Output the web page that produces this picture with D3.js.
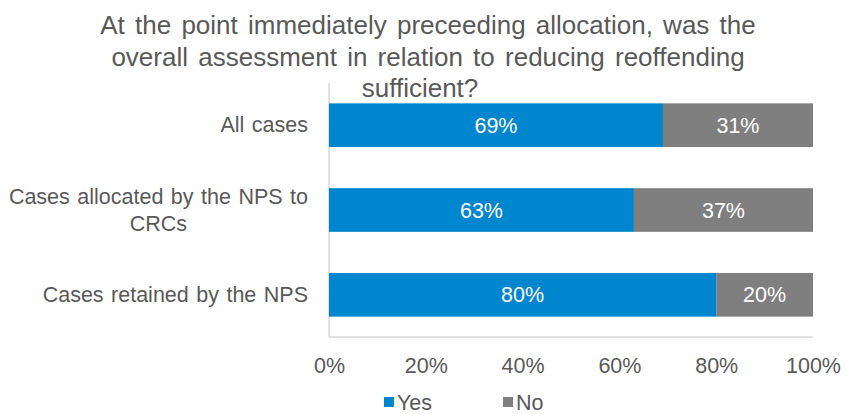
<!DOCTYPE html>
<html>
<head>
<meta charset="utf-8">
<script src="https://cdn.jsdelivr.net/npm/d3@7"></script>
<style>
  body { margin: 0; background: #fff; }
  svg text { font-family: "Liberation Sans", Arial, sans-serif; }
</style>
</head>
<body>
<div class="container"></div>
<script>
// data
const categories = ["All cases", "Cases allocated by the NPS to CRCs", "Cases retained by the NPS"];
const yesValues = [69, 63, 80];
const noValues = [31, 37, 20];
const tickValues = [0, 20, 40, 60, 80, 100];
const seriesNames = ["Yes", "No"];
const titleLines = [
  "At the point immediately preceeding allocation, was the",
  "overall assessment in relation to reducing reoffending",
  "sufficient?"
];

const width = 855, height = 414;
const textColor = "#595959";
const colors = { Yes: "#0086CE", No: "#7F7F7F" };

let svg = d3.select(".container").append("svg")
  .attr("width", width)
  .attr("height", height);

// scales
let x = d3.scaleLinear().domain([0, 100]).range([329, 813]);
let y = d3.scaleBand().domain(categories).range([83, 337])
  .paddingInner(0.485).paddingOuter(0.24);

// title
svg.append("g").selectAll("text")
  .data(titleLines)
  .join("text")
    .attr("x", (d, i) => i == 2 ? 420 : 428)
    .attr("y", (d, i) => 34 + i * 31.5)
    .attr("text-anchor", "middle")
    .attr("font-size", 26)
    .attr("word-spacing", 3)
    .attr("fill", textColor)
    .text(d => d);

// axis lines
svg.append("line")
  .attr("x1", x(0)).attr("x2", x(0))
  .attr("y1", y.range()[0]).attr("y2", y.range()[1])
  .attr("stroke", "#D9D9D9").attr("stroke-width", 1.5);
svg.append("line")
  .attr("x1", x(0)).attr("x2", x(100))
  .attr("y1", y.range()[1]).attr("y2", y.range()[1])
  .attr("stroke", "#D9D9D9").attr("stroke-width", 1.5);

// stacked bars
let rows = categories.map((c, i) => ({ cat: c, Yes: yesValues[i], No: noValues[i] }));
let stacked = d3.stack().keys(seriesNames)(rows);

let layers = svg.append("g").selectAll("g")
  .data(stacked)
  .join("g")
    .attr("fill", d => colors[d.key]);

layers.selectAll("rect")
  .data(d => d)
  .join("rect")
    .attr("x", d => x(d[0]))
    .attr("y", d => y(d.data.cat))
    .attr("width", d => x(d[1]) - x(d[0]))
    .attr("height", y.bandwidth());

layers.selectAll("text")
  .data(d => d.map(v => ({ v: v, key: d.key })))
  .join("text")
    .attr("x", d => (x(d.v[0]) + x(d.v[1])) / 2)
    .attr("y", d => y(d.v.data.cat) + y.bandwidth() / 2)
    .attr("dy", "0.35em")
    .attr("text-anchor", "middle")
    .attr("font-size", 21.5)
    .attr("fill", "#fff")
    .text(d => d.v.data[d.key] + "%");

// x axis
let xAxis = svg.append("g")
  .attr("transform", "translate(0,373)")
  .call(d3.axisBottom(x).tickValues(tickValues).tickSize(0).tickFormat(d => d + "%"));
xAxis.select(".domain").remove();
xAxis.selectAll("text")
  .attr("y", 0).attr("dy", 0)
  .attr("font-size", 21.5)
  .attr("fill", textColor);

// y axis labels, wrapped
let yAxis = svg.append("g")
  .attr("transform", "translate(308,0)")
  .call(d3.axisLeft(y).tickSize(0).tickPadding(0));
yAxis.select(".domain").remove();
yAxis.selectAll("text")
  .attr("font-size", 21.5)
  .attr("word-spacing", 1.5)
  .attr("fill", textColor)
  .each(function(d) {
    let t = d3.select(this);
    let words = d.split(" ");
    let lines = [], line = [];
    t.text(null);
    let probe = t.append("tspan");
    words.forEach(w => {
      line.push(w);
      probe.text(line.join(" "));
      if (probe.node().getComputedTextLength() > 300 && line.length > 1) {
        line.pop();
        lines.push(line.join(" "));
        line = [w];
      }
    });
    lines.push(line.join(" "));
    probe.remove();
    if (lines.length == 1) {
      t.text(lines[0]);
      return;
    }
    let widths = lines.map(l => {
      let s = t.append("tspan").text(l);
      let w = s.node().getComputedTextLength();
      s.remove();
      return w;
    });
    let cx = -d3.max(widths) / 2;
    t.attr("text-anchor", "middle").attr("dy", null);
    lines.forEach((l, i) => {
      t.append("tspan")
        .attr("x", cx)
        .attr("dy", i == 0 ? (0.35 * 21.5 - 13.5) + "px" : "27px")
        .text(l);
    });
  });

// legend
let legendX = [384, 503];
let legend = svg.append("g").selectAll("g")
  .data(seriesNames)
  .join("g")
    .attr("transform", (d, i) => `translate(${legendX[i]},397)`);
legend.append("rect")
  .attr("width", 10).attr("height", 10)
  .attr("fill", d => colors[d]);
legend.append("text")
  .attr("x", 13).attr("y", 13)
  .attr("font-size", 21.5)
  .attr("fill", textColor)
  .text(d => d);
</script>
</body>
</html>
